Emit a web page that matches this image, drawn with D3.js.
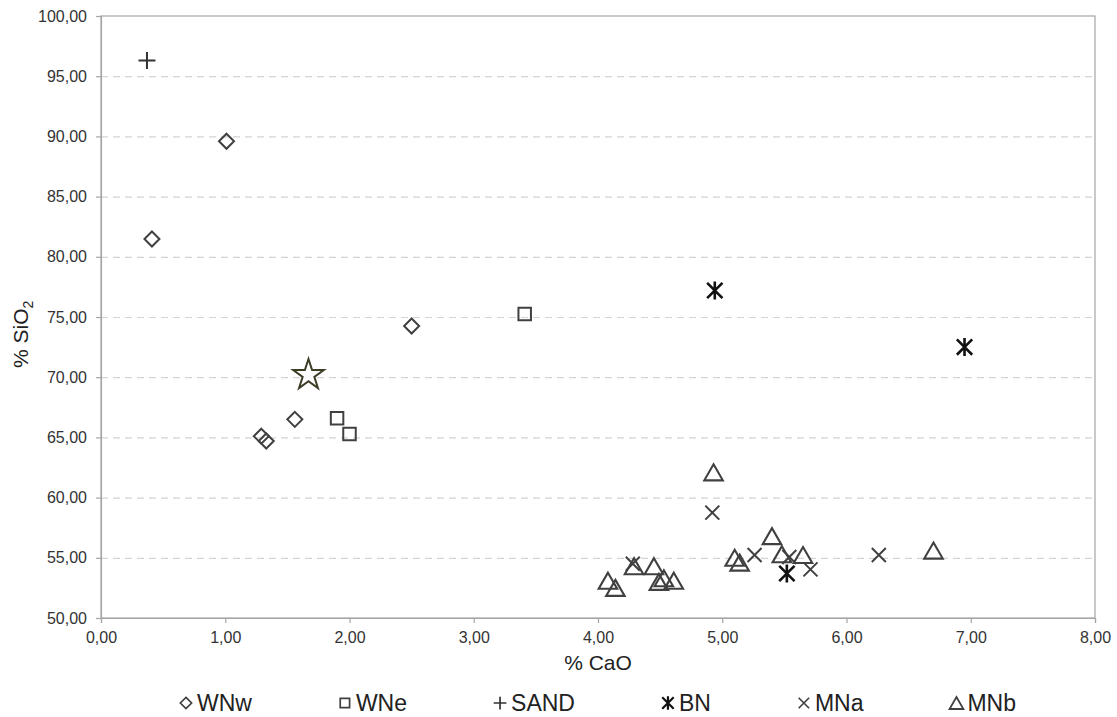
<!DOCTYPE html>
<html>
<head>
  <meta charset="utf-8">
  <style>
    body { margin: 0; background: #fff; }
    svg { font-family: "Liberation Sans", Arial, sans-serif; }
    .grid line { stroke: #d4d4d4; stroke-width: 1.2; stroke-dasharray: 7,5; }
    .grid path { stroke-width: 0; }
    .axis path, .axis line { stroke: #a6a6a6; stroke-width: 1.2; }
    .axis text { fill: #333; font-size: 16px; }
  </style>
</head>
<body>
  <script src="https://d3js.org/d3.v7.min.js"></script>
  <script>
    // values: [CaO, SiO2]
    var wnw  = [[1.01, 89.6], [0.41, 81.48], [2.50, 74.25], [1.56, 66.5], [1.29, 65.1], [1.33, 64.7]];
    var wne  = [[1.90, 66.6], [2.00, 65.28], [3.41, 75.25]];
    var sand = [[0.37, 96.3]];
    var bn   = [[4.94, 77.2], [6.95, 72.5], [5.52, 53.7]];
    var mna  = [[4.92, 58.75], [4.28, 54.5], [5.26, 55.23], [5.54, 55.07], [5.71, 54.04], [6.26, 55.23]];
    var mnb  = [[4.08, 53.1], [4.14, 52.5], [4.29, 54.3], [4.45, 54.3], [4.49, 53.0], [4.53, 53.3],
                [4.61, 53.1], [4.93, 62.1], [5.10, 55.0], [5.14, 54.6], [5.40, 56.8], [5.48, 55.3],
                [5.65, 55.23], [6.70, 55.6]];
    var sample = [[1.67, 70.18]];

    var xTicks = [0, 1, 2, 3, 4, 5, 6, 7, 8];
    var yTicks = [50, 55, 60, 65, 70, 75, 80, 85, 90, 95, 100];

    var margin = {top: 16, right: 22, bottom: 99, left: 101},
        width = 1117 - margin.left - margin.right,
        height = 717 - margin.top - margin.bottom;

    var locale = d3.formatLocale({decimal: ",", thousands: ".", grouping: [3], currency: ["", ""]});
    var fmt = locale.format(".2f");

    var x = d3.scaleLinear().domain([0, 8]).range([0, width]),
        y = d3.scaleLinear().domain([50, 100]).range([height, 0]);

    // marker shapes, size = full extent in px
    var diamond = {draw: function(c, s) { var r = s / 2; c.moveTo(0, -r); c.lineTo(r, 0); c.lineTo(0, r); c.lineTo(-r, 0); c.closePath(); }};
    var square = {draw: function(c, s) { var r = s / 2; c.rect(-r, -r, s, s); }};
    var plus = {draw: function(c, s) { var r = s / 2; c.moveTo(-r, 0); c.lineTo(r, 0); c.moveTo(0, -r); c.lineTo(0, r); }};
    var times = {draw: function(c, s) { var r = s / 2; c.moveTo(-r, -r); c.lineTo(r, r); c.moveTo(-r, r); c.lineTo(r, -r); }};
    var asterisk = {draw: function(c, s) { var r = s / 2, d = r * 0.85; c.moveTo(0, -r); c.lineTo(0, r); c.moveTo(-d, -d); c.lineTo(d, d); c.moveTo(-d, d); c.lineTo(d, -d); }};
    var triangle = {draw: function(c, s) { var h = s * 0.866 / 2, w = s / 2; c.moveTo(0, -h); c.lineTo(w, h); c.lineTo(-w, h); c.closePath(); }};

    var series = [
      {name: "WNw", data: wnw, type: diamond, size: 15, color: "#404040", sw: 2},
      {name: "WNe", data: wne, type: square, size: 12.5, color: "#404040", sw: 2},
      {name: "SAND", data: sand, type: plus, size: 17, color: "#333", sw: 2},
      {name: "BN", data: bn, type: asterisk, size: 18, color: "#111", sw: 2.6},
      {name: "MNa", data: mna, type: times, size: 14, color: "#404040", sw: 2},
      {name: "MNb", data: mnb, type: triangle, size: 18.5, color: "#404040", sw: 2.1}
    ];

    var svg = d3.select("body").append("svg")
        .attr("width", 1117)
        .attr("height", 717);

    var g = svg.append("g")
        .attr("transform", "translate(" + margin.left + "," + margin.top + ")");

    g.append("g")
        .attr("class", "grid")
        .call(d3.axisLeft(y).tickValues(yTicks.slice(1, -1)).tickSize(-width).tickFormat(""));

    // plot frame
    g.append("rect")
        .attr("width", width).attr("height", height)
        .attr("fill", "none").attr("stroke", "#a6a6a6").attr("stroke-width", 1.2);

    g.append("g")
        .attr("class", "axis")
        .call(d3.axisLeft(y).tickValues(yTicks).tickSize(5).tickPadding(9).tickFormat(fmt));

    g.append("g")
        .attr("class", "axis")
        .attr("transform", "translate(0," + height + ")")
        .call(d3.axisBottom(x).tickValues(xTicks).tickSize(5).tickPadding(9).tickFormat(fmt));

    // axis titles
    svg.append("text")
        .attr("x", margin.left + width / 2).attr("y", 670)
        .attr("text-anchor", "middle").attr("font-size", 21).attr("fill", "#222")
        .text("% CaO");

    var yt = svg.append("text")
        .attr("transform", "translate(28,368) rotate(-90)")
        .attr("font-size", 21).attr("fill", "#222");
    yt.append("tspan").text("% SiO");
    yt.append("tspan").attr("font-size", 14).attr("dy", 5).text("2");

    // points
    series.forEach(function(s) {
      g.append("g").selectAll("path")
        .data(s.data)
        .enter().append("path")
          .attr("transform", function(d) { return "translate(" + x(d[0]) + "," + y(d[1]) + ")"; })
          .attr("d", d3.symbol().type(s.type).size(s.size))
          .attr("fill", "none")
          .attr("stroke", s.color)
          .attr("stroke-width", s.sw);
    });

    g.append("g").selectAll("path")
      .data(sample)
      .enter().append("path")
        .attr("transform", function(d) { return "translate(" + x(d[0]) + "," + y(d[1]) + ")"; })
        .attr("d", d3.symbol().type(d3.symbolStar).size(290))
        .attr("fill", "#fff")
        .attr("stroke", "#3d3d26")
        .attr("stroke-width", 2);

    // legend
    var pad = 11, gap = 93;
    var legend = svg.append("g").attr("transform", "translate(0,703)");
    var items = legend.selectAll("g").data(series).enter().append("g");
    items.append("path")
        .attr("d", function(s) { return d3.symbol().type(s.type).size(s.size * 0.75)(); })
        .attr("fill", "none")
        .attr("stroke", function(s) { return s.color; })
        .attr("stroke-width", function(s) { return s.sw * 0.85; });
    items.append("text")
        .attr("x", pad).attr("dy", "0.36em")
        .attr("font-size", 23).attr("fill", "#222")
        .text(function(s) { return s.name; });

    var pos = 0, offs = [];
    items.each(function(s) {
      offs.push(pos);
      pos += pad + d3.select(this).select("text").node().getComputedTextLength() + gap;
    });
    var total = pos - gap + 6;
    var start = margin.left + width / 2 - total / 2 + 6;
    items.attr("transform", function(s, i) { return "translate(" + (start + offs[i]) + ",0)"; });
  </script>
</body>
</html>
